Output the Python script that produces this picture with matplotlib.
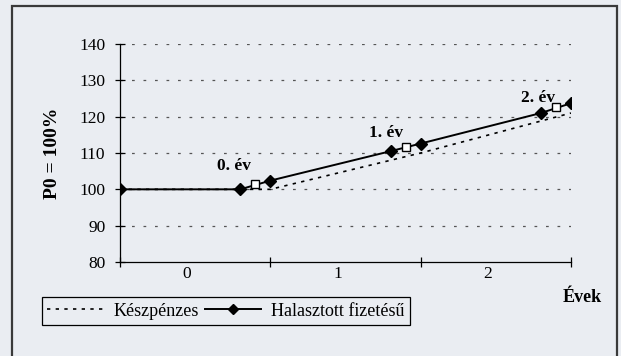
import matplotlib
matplotlib.use("Agg")
import matplotlib.pyplot as plt
import matplotlib.transforms as mtransforms
from matplotlib.patches import Rectangle

# ---- data ----
cash_x = [0, 1, 2, 3]
cash_y = [100, 100, 110, 121]
deferred_x = [0, 0.8, 1.0, 1.8, 2.0, 2.8, 3.0]
deferred_y = [100, 100, 102.4, 110.5, 112.6, 121.0, 123.7]
square_x = [0.9, 1.9, 2.9]
square_y = [101.6, 111.6, 122.6]
year_labels = ["0. év", "1. év", "2. év"]
year_label_x = [0.76, 1.77, 2.78]
year_label_y = [106.4, 115.4, 125.2]
cat_labels = ["0", "1", "2"]
y_ticks = [80, 90, 100, 110, 120, 130, 140]
series_names = ["Készpénzes", "Halasztott fizetésű"]

BG = "#eaedf2"
plt.rcParams["font.family"] = ["Liberation Serif", "DejaVu Serif"]

fig = plt.figure(figsize=(6.21, 3.56), dpi=100, facecolor=BG)
ax = fig.add_axes([120 / 621, (356 - 262) / 356, (571 - 120) / 621, (262 - 44) / 356])
ax.set_facecolor(BG)

# outer frame
fig.patches.append(Rectangle((12 / 621, -0.1), (617 - 12) / 621, 1.1 - 6 / 356,
                             transform=fig.transFigure, fill=False,
                             edgecolor="#3a3a3a", linewidth=1.6))

ax.plot(cash_x, cash_y, color="black", linestyle=(0, (2, 3.2)), linewidth=1.2,
        label=series_names[0], zorder=3)
ax.plot(deferred_x, deferred_y, color="black", linestyle="-", linewidth=1.4,
        marker="D", markersize=6.5, label=series_names[1], zorder=4)
ax.plot(square_x, square_y, linestyle="none", marker="s", markersize=6,
        markerfacecolor="white", markeredgecolor="black", markeredgewidth=1.0, zorder=5)

for t, x, y in zip(year_labels, year_label_x, year_label_y):
    ax.text(x, y, t, ha="center", va="center", fontsize=12.5, fontweight="bold")

ax.set_xlim(0, 3)
ax.set_ylim(80, 140)
ax.set_yticks(y_ticks)
ax.set_yticklabels([str(v) for v in y_ticks], fontsize=12.5)
ax.set_xticks([0, 1, 2, 3])
ax.set_xticklabels([])
ax.set_xticks([i + 0.5 for i in range(len(cat_labels))], minor=True)
ax.set_xticklabels(cat_labels, minor=True, fontsize=12.5)
ax.tick_params(axis="x", which="minor", length=0, pad=3)
ax.tick_params(axis="x", which="major", direction="inout", length=7, width=0.9)
ax.tick_params(axis="y", direction="inout", length=7, width=0.9, pad=7)
shift = mtransforms.ScaledTranslation(-8 / 100, 0, fig.dpi_scale_trans)
for lbl in ax.get_xticklabels(minor=True):
    lbl.set_transform(lbl.get_transform() + shift)

for y in y_ticks[1:]:
    ax.axhline(y, color="#555555", linewidth=0.9, linestyle=(0, (2.2, 7)), zorder=1)

for s in ["top", "right"]:
    ax.spines[s].set_visible(False)
for s in ["left", "bottom"]:
    ax.spines[s].set_linewidth(0.9)

ax.set_ylabel("P0 = 100%", fontsize=14, fontweight="bold")
ax.yaxis.set_label_coords(-0.131, 0.5)

fig.text(582 / 621, (356 - 298) / 356, "Évek", fontsize=13, fontweight="bold",
         ha="center", va="center")

handles, labels = ax.get_legend_handles_labels()
leg = fig.legend(handles, labels, loc="lower left",
                 bbox_to_anchor=(42 / 621, (356 - 325) / 356),
                 ncol=2, frameon=True, fancybox=False, edgecolor="black",
                 facecolor=BG, framealpha=1, fontsize=13, handlelength=3.1,
                 handletextpad=0.55, columnspacing=0.35, borderpad=0.3,
                 borderaxespad=0, markerscale=0.75)
leg.get_frame().set_linewidth(0.9)

fig.savefig("out.png", dpi=100, facecolor=BG)
